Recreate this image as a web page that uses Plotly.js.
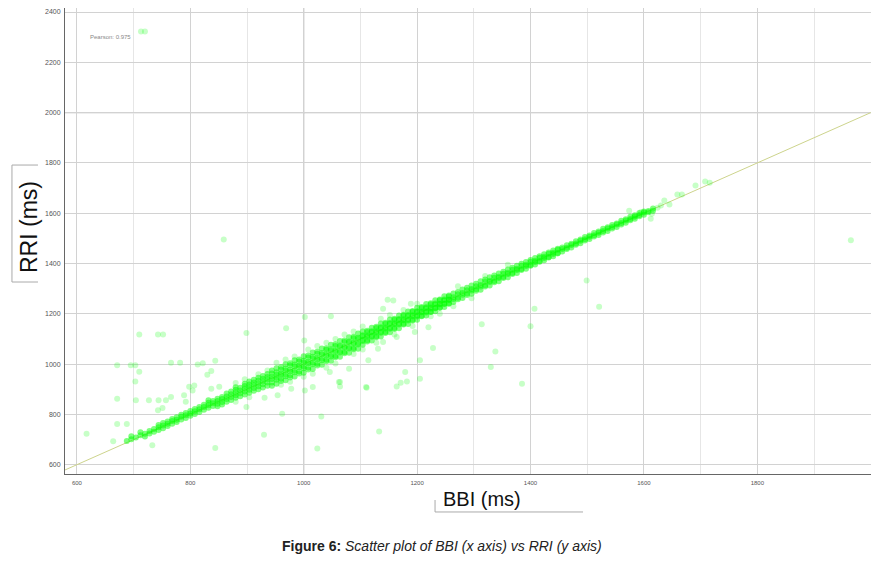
<!DOCTYPE html>
<html>
<head>
<meta charset="utf-8">
<script src="https://cdn.plot.ly/plotly-3.0.1.min.js"></script>
<style>
html,body{margin:0;padding:0;background:#fff;}
#chart{width:875px;height:575px;}
</style>
</head>
<body>
<div id="chart"></div>
<script>
// Each row: [BBI, RRI, RRI, ...] – points sharing one BBI column (ms)
const bandLow = [
[688,694],[696,701,713],[704,708],[712,717,729],[720,723,712],[728,734,724],
[736,742,731],[744,749,738,758],[752,756,766,745],[760,763,754,772],
[768,774,763,782],[776,779,770,789],[784,791,780,799],[792,797,786,806],
[800,804,795,814],[808,813,802,821],[816,820,810,829],[824,829,818,838],
[832,836,826,846,856],[840,844,833,853],[848,853,842,862,832],[856,861,849,869,839]
];
const bandMid = [
[864,850,861,871,883],[872,857,869,880,891],[880,866,876,887,898,908],
[888,872,884,895,906],[896,879,891,902,913,922],[904,886,898,909,919,931],
[912,894,905,917,927,938],[920,900,912,923,935,946],[928,907,920,931,942,953],
[936,914,927,939,949,961]
];
const bandCore1 = [
[944,914,927,941,950,963,975],[952,922,938,946,959,968,984],
[960,933,942,957,964,979,988],[968,936,952,960,975,983,999],
[976,947,956,971,979,995,1003],[984,951,968,975,991,998,1015],
[992,963,971,987,994,1010,1018],[1000,966,984,990,1006,1013,1031],
[1008,979,986,1003,1009,1026,1034],[1016,981,999,1005,1022,1029,1046],
[1024,994,1001,1018,1024,1041,1049],[1032,997,1015,1021,1038,1044,1062],
[1040,1011,1017,1034,1040,1057,1063],[1048,1013,1030,1036,1053,1059,1077],
[1056,1027,1032,1049,1055,1072,1079],[1064,1029,1046,1051,1069,1074,1092],
[1072,1043,1048,1065,1070,1088,1094],[1080,1045,1062,1067,1085,1090,1107],
[1088,1059,1064,1081,1086,1103,1109],[1096,1061,1078,1083,1100,1105,1122]
];
const bandCore2 = [
[1104,1077,1092,1097,1111,1115,1130],[1112,1090,1095,1110,1114,1128,1133],
[1120,1094,1109,1113,1127,1131,1145],[1128,1107,1111,1126,1130,1144,1149],
[1136,1110,1125,1129,1143,1147,1161],[1144,1124,1128,1142,1146,1160,1164],
[1152,1127,1141,1145,1159,1163,1177],[1160,1140,1144,1158,1162,1176,1180],
[1168,1143,1157,1161,1175,1179,1193],[1176,1157,1160,1174,1178,1192,1196],
[1184,1159,1173,1177,1191,1195,1209],[1192,1173,1176,1190,1194,1208,1211],
[1200,1176,1189,1193,1207,1210,1224],[1208,1190,1192,1206,1209,1223,1227],
[1216,1193,1205,1209,1222,1226,1239],[1224,1207,1208,1221,1225,1238,1242],
[1232,1210,1222,1224,1237,1241,1254],[1240,1224,1225,1238,1240,1254,1257],
[1248,1227,1239,1241,1253,1257,1270],[1256,1240,1242,1255,1257,1269,1273]
];
const bandUpper = [
[1264,1247,1259,1266,1281],[1272,1258,1264,1278,1287],[1280,1263,1276,1283,1297],
[1288,1275,1281,1294,1304],[1296,1280,1293,1299,1313],[1304,1292,1298,1310,1320],
[1312,1296,1309,1315,1329],[1320,1309,1314,1327,1336],[1328,1313,1326,1331,1345],
[1336,1325,1330,1343,1352],[1344,1329,1342,1347,1360],[1352,1342,1346,1359,1367],
[1360,1345,1358,1363,1376],[1368,1358,1362,1375,1383],[1376,1362,1374,1379,1391],
[1384,1374,1378,1391,1399],[1392,1379,1390,1395,1406],[1400,1391,1394,1407,1414],
[1408,1396,1406,1411,1422],[1416,1407,1410,1423,1429],[1424,1413,1422,1427,1437],
[1432,1424,1426,1439,1444],[1440,1429,1438,1443,1452],[1448,1440,1442,1455,1459]
];
const bandTop = [
[1456,1448,1458,1464],[1464,1458,1463,1473],[1472,1464,1474,1479],[1480,1475,1480,1489],
[1488,1481,1490,1495],[1496,1491,1496,1505],[1504,1497,1506,1511],[1512,1507,1512,1521],
[1520,1513,1522,1527],[1528,1523,1529,1538],[1536,1529,1539,1544],[1544,1539,1545,1553],
[1552,1545,1555,1559],[1560,1555,1561,1570],[1568,1562,1571,1576],[1576,1572,1577,1586],
[1584,1578,1587,1592],[1592,1588,1593,1601],[1600,1594,1603,1607],[1608,1604,1609],
[1616,1610,1619]
];
// Faint points just off the band [BBI, RRI]
const nearBand = [
[920,960],[936,975],[952,1005],[968,1018],[984,1030],[1008,1058],[1024,1072],[1040,1085],
[1056,1100],[1072,1118],[1088,1130],[1104,1150],[1136,1180],[1152,1195],[1176,1215],
[1200,1240],[960,918],[976,930],[1000,950],[1016,962],[1040,985],[1056,1002],[1088,1040],
[1104,1058],[1128,1085],[1160,1118],[1192,1152],[1224,1190],[1264,1230],[1296,1262],
[1320,1350],[1360,1395],[880,925],[896,940],[880,850],[904,868],[1240,1200],[1272,1310]
];
// Scattered points [BBI, RRI]
const outliers = [
[710,1118],[743,1118],[752,1118],[671,995],[695,995],[703,995],[710,970],[703,931],
[671,862],[704,856],[727,856],[744,856],[617,723],[671,762],[688,762],[766,1005],
[782,1005],[813,998],[822,1003],[844,1013],[837,973],[830,958],[766,869],[757,856],
[751,825],[743,816],[733,677],[664,693],[844,666],[798,910],[807,915],[804,895],
[789,876],[792,850],[837,902],[851,910],[899,1124],[969,1143],[930,719],[1024,664],
[1031,792],[962,803],[1133,732],[1064,929],[1064,911],[1111,906],[1080,982],[1002,895],
[1001,1094],[899,829],[931,866],[954,876],[978,902],[1114,1015],[1131,1061],
[1148,1256],[1158,1253],[1189,1240],[1140,1220],[1048,1190],[1002,1187],[1314,1158],
[1338,1050],[1330,988],[1385,922],[1407,1220],[1400,1151],[1228,1064],[1205,1015],
[1205,942],[1179,969],[1164,911],[1182,931],[1110,909],[1220,1147],[1196,1128],
[1164,1108],[1140,1088],[1062,929],[1016,909],[1046,969],[1171,926],[1499,1332],
[1521,1228],[1965,1492],[859,1495],[713,2323],[720,2323],
[1614,1598],[1612,1578],[1574,1610],[1624,1622],[1630,1631],[1636,1651],[1645,1635],
[1659,1674],[1667,1674],[1691,1710],[1708,1726],[1716,1721],[1595,1605],[1583,1585]
];
const fitBBI = [560, 2000];
const fitRRI = [560, 2000];
const pearson = 0.975;

const xTickVals = [600, 800, 1000, 1200, 1400, 1600, 1800];
const yTickVals = [600, 800, 1000, 1200, 1400, 1600, 1800, 2000, 2200, 2400];

const BX = [], BY = [];
[bandLow, bandMid, bandCore1, bandCore2, bandUpper, bandTop].forEach(tbl => {
  tbl.forEach(row => {
    for (let i = 1; i < row.length; i++) { BX.push(row[0]); BY.push(row[i]); }
  });
});
const sparse = outliers.concat(nearBand);
const OX = sparse.map(p => p[0]), OY = sparse.map(p => p[1]);

const font = 'Liberation Sans, Arial, sans-serif';

const traces = [
  {x: fitBBI, y: fitRRI, type: 'scatter', mode: 'lines',
   line: {color: '#cdd48c', width: 1}, hoverinfo: 'skip'},
  {x: OX, y: OY, type: 'scatter', mode: 'markers',
   marker: {color: '#00ff00', size: 6, opacity: 0.22, line: {width: 0}}},
  {x: BX, y: BY, type: 'scatter', mode: 'markers',
   marker: {color: '#00ff00', size: 6, opacity: 0.5, line: {width: 0}}}
];

const layout = {
  width: 875, height: 575,
  margin: {l: 65, r: 4, t: 8, b: 101},
  paper_bgcolor: '#fff', plot_bgcolor: '#fff',
  showlegend: false,
  font: {family: font},
  xaxis: {
    range: [579, 2000.5], tickvals: xTickVals, ticktext: xTickVals.map(String),
    showgrid: true, gridcolor: '#d2d2d2', gridwidth: 1,
    minor: {dtick: 100, tick0: 0, showgrid: true, gridcolor: '#e6e6e6', ticks: ''},
    showline: true, linecolor: '#666', linewidth: 1, zeroline: false, ticks: '',
    ticklabelstandoff: 3,
    tickfont: {size: 6, color: '#555', family: font}
  },
  yaxis: {
    range: [563, 2416], tickvals: yTickVals, ticktext: yTickVals.map(String),
    showgrid: true, gridcolor: '#d2d2d2', gridwidth: 1,
    showline: true, linecolor: '#666', linewidth: 1, zeroline: false, ticks: '',
    ticklabelstandoff: 2,
    tickfont: {size: 7, color: '#555', family: font}
  },
  shapes: [
    {type: 'line', xref: 'x', yref: 'paper', x0: 1000, x1: 1000, y0: 0, y1: 1, layer: 'below', line: {color: '#999', width: 1}},
    {type: 'line', xref: 'x', yref: 'paper', x0: 1400, x1: 1400, y0: 0, y1: 1, layer: 'below', line: {color: '#999', width: 1}},
    {type: 'line', xref: 'paper', yref: 'y', x0: 0, x1: 1, y0: 2000, y1: 2000, layer: 'below', line: {color: '#666', width: 1}},
    // title boxes
    {type: 'line', xref: 'paper', yref: 'paper', x0: -0.0658, x1: -0.0658, y0: 0.412, y1: 0.663, line: {color: '#aaa', width: 1}},
    {type: 'line', xref: 'paper', yref: 'paper', x0: -0.0658, x1: -0.0335, y0: 0.663, y1: 0.663, line: {color: '#aaa', width: 1}},
    {type: 'line', xref: 'paper', yref: 'paper', x0: -0.0658, x1: -0.0335, y0: 0.412, y1: 0.412, line: {color: '#aaa', width: 1}},
    {type: 'line', xref: 'paper', yref: 'paper', x0: 0.4591, x1: 0.4591, y0: -0.0558, y1: -0.0815, line: {color: '#aaa', width: 1}},
    {type: 'line', xref: 'paper', yref: 'paper', x0: 0.4591, x1: 0.6427, y0: -0.0815, y1: -0.0815, line: {color: '#aaa', width: 1}}
  ],
  annotations: [
    {text: 'RRI (ms)', xref: 'paper', yref: 'paper', x: -0.0447, y: 0.530, textangle: -90,
     showarrow: false, xanchor: 'center', yanchor: 'middle', font: {size: 23, color: '#111', family: font}},
    {text: 'BBI (ms)', xref: 'paper', yref: 'paper', x: 0.517, y: -0.0536,
     showarrow: false, xanchor: 'center', yanchor: 'middle', font: {size: 20, color: '#111', family: font}},
    {text: 'Pearson: ' + pearson, xref: 'paper', yref: 'paper', x: 0.0285, y: 0.9378,
     showarrow: false, xanchor: 'left', yanchor: 'middle', font: {size: 6, color: '#888', family: font}},
    {text: '<b>Figure 6:</b> <i>Scatter plot of BBI (x axis) vs RRI (y axis)</i>', xref: 'paper', yref: 'paper',
     x: 0.4677, y: -0.1545, showarrow: false, xanchor: 'center', yanchor: 'middle',
     font: {size: 14, color: '#222', family: 'Liberation Sans Narrow, Arial Narrow, Liberation Sans, Arial, sans-serif'}}
  ]
};

Plotly.newPlot('chart', traces, layout, {displayModeBar: false, staticPlot: true});
</script>
</body>
</html>
